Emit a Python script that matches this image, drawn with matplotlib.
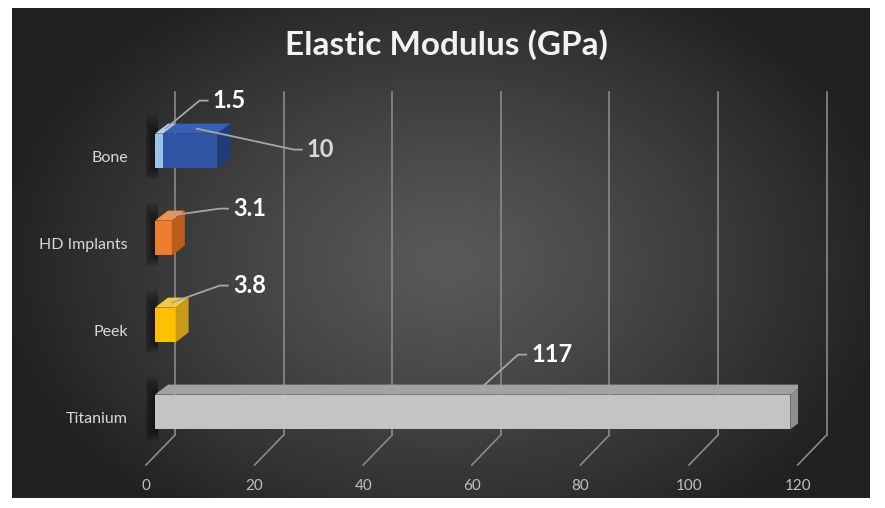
import numpy as np
import matplotlib
matplotlib.use("Agg")
import matplotlib.pyplot as plt
from matplotlib.patches import Polygon, Rectangle

plt.rcParams["font.family"] = ["Lato", "DejaVu Sans"]

# データ
categories = ["Bone", "HD Implants", "Peek", "Titanium"]
low_values = [1.5, 0, 0, 0]          # 下段（Bone のみ）
high_values = [10, 3.1, 3.8, 117]    # 上段
x_ticks = [0, 20, 40, 60, 80, 100, 120]

# 色
low_colors = ["#9dc3e6", "#9dc3e6", "#9dc3e6", "#9dc3e6"]
low_top = ["#b4d2ee", "#b4d2ee", "#b4d2ee", "#b4d2ee"]
high_colors = ["#2f55a4", "#ed7d31", "#ffc000", "#c6c3c3"]
high_top = ["#3560b5", "#f28f4a", "#f7c843", "#a3a1a1"]
high_side = ["#1f3c7a", "#bd5d1c", "#c99a17", "#8f8d8d"]

W, H = 885, 508
fig = plt.figure(figsize=(W / 100, H / 100), dpi=100)
fig.patch.set_facecolor("white")

# 背景グラデーション
bx0, by0, bx1, by1 = 12, 8, 870, 498
bg = fig.add_axes([bx0 / W, 1 - by1 / H, (bx1 - bx0) / W, (by1 - by0) / H])
bg.axis("off")
gx, gy = np.meshgrid(np.arange(bx1 - bx0), np.arange(by1 - by0))
r = np.sqrt(((gx - (446 - bx0)) / 450.0) ** 2 + ((gy - (262 - by0)) / 320.0) ** 2)
r = np.clip(r, 0, 1)
shade = 0.35 - 0.22 * r ** 1.2
bg.imshow(np.dstack([shade, shade, shade]), aspect="auto", interpolation="bilinear")

# メイン軸（前面の床の縁）
ax_l, ax_r, ax_b, ax_t = 146, 797.6, 465, 92
ax = fig.add_axes([ax_l / W, 1 - ax_b / H, (ax_r - ax_l) / W, (ax_b - ax_t) / H])
ax.set_facecolor("none")
ylo, yhi = -53 / 87, 320 / 87
ax.set_xlim(0, 120)
ax.set_ylim(ylo, yhi)
for s in ax.spines.values():
    s.set_visible(False)

sx = 120 / (ax_r - ax_l)
sy = (yhi - ylo) / (ax_b - ax_t)


def px(dx, dy):
    return dx * sx, dy * sy


# 目盛りとグリッド（奥の壁 + 床の斜線）
fx, fy = px(29, 30)
for v in x_ticks:
    ax.plot([v, v + fx], [ylo, ylo + fy], color="#8a8a8a", lw=1.2, zorder=1, clip_on=False)
    ax.plot([v + fx, v + fx], [ylo + fy, yhi], color="#8a8a8a", lw=1.2, zorder=1, clip_on=False)
ax.set_xticks(x_ticks)
ax.set_xticklabels([str(t) for t in x_ticks], color="#bfbfbf", fontsize=11)
ax.tick_params(axis="x", length=0, pad=10)
ax.set_yticks([])

ypos = [3, 2, 1, 0]
hh = 0.2
ox, _ = px(9, 0)
dx, dy = px(13, 10)


def box(x0, x1, c, front, top, side=None):
    ax.add_patch(Rectangle((x0, c - hh), x1 - x0, 2 * hh, facecolor=front, edgecolor="none", zorder=3))
    ax.add_patch(Polygon([(x0, c + hh), (x1, c + hh), (x1 + dx, c + hh + dy), (x0 + dx, c + hh + dy)],
                         closed=True, facecolor=top, edgecolor="none", zorder=3))
    if side is not None:
        ax.add_patch(Polygon([(x1, c - hh), (x1, c + hh), (x1 + dx, c + hh + dy), (x1 + dx, c - hh + dy)],
                             closed=True, facecolor=side, edgecolor="none", zorder=3))


def leader(xs, ys, off, text, color):
    ox_, oy_ = px(*off)
    lx, ly = xs + ox_, ys + oy_
    cx_, _ = px(13, 0)
    ex_, _ = px(5, 0)
    ax.plot([xs, lx - cx_, lx - ex_], [ys, ly, ly], color="#a6a6a6", lw=1.3, zorder=4, clip_on=False)
    ax.text(lx, ly, text, color=color, fontsize=17, fontweight="bold", ha="left", va="center", zorder=5)


low_offsets = [(47, 28), None, None, None]
high_offsets = [(110, -21), (63, 7), (61, 17), (52, 35)]
label_colors = ["#d9d9d9", "#ffffff", "#ffffff", "#ffffff"]

for i, cat in enumerate(categories):
    c = ypos[i]
    start = ox
    # 影
    for k in range(6):
        sxk, syk = px(2 + 2 * k, 2 + 2.5 * k)
        ax.add_patch(Rectangle((start - sxk, c - hh - syk * 0.7), sxk + px(3, 0)[0], 2 * hh + syk * 1.9,
                               facecolor="black", alpha=0.11, edgecolor="none", zorder=2))
    if low_values[i] > 0:
        x1 = start + low_values[i]
        box(start, x1, c, low_colors[i], low_top[i])
        mid = (start + x1) / 2 + dx / 2
        leader(mid, c + hh + dy / 2, low_offsets[i], f"{low_values[i]:g}", "#ffffff")
        start = x1
    x1 = start + high_values[i]
    box(start, x1, c, high_colors[i], high_top[i], high_side[i])
    mid = (start + x1) / 2 + dx / 2
    leader(mid, c + hh + dy / 2, high_offsets[i], f"{high_values[i]:g}", label_colors[i])
    # カテゴリ名
    lxo, lyo = px(-18, -7)
    ax.text(lxo, c + lyo, cat, color="#d9d9d9", fontsize=11.5, ha="right", va="center")

fig.text(446 / W, 1 - 45 / H, "Elastic Modulus (GPa)", color="#f2f2f2", fontsize=24,
         fontweight="bold", ha="center", va="center")

fig.savefig("out.png", dpi=100)
